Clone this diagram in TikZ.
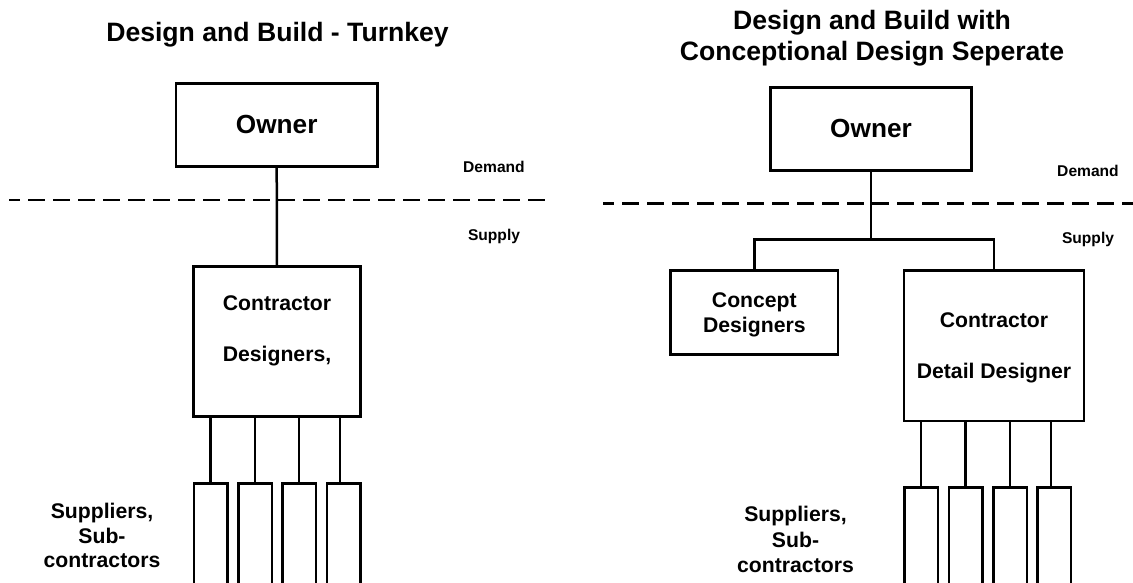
\documentclass[tikz,border=0pt]{standalone}
\usepackage{fontspec}
\setmainfont{Liberation Sans}
\begin{document}
\begin{tikzpicture}[x=1pt,y=-1pt,
  box/.style={draw, rectangle, inner sep=0pt, outer sep=0pt, line width=2.5pt},
  wire/.style={line width=2.5pt},
  dline/.style={line width=2.5pt, dash pattern=on 16.7pt off 8.3pt, dash phase=6pt},
  txt/.style={anchor=base, inner sep=0pt, outer sep=0pt},
  ttl/.style={txt, font=\fontsize{26.6}{30}\selectfont\bfseries},
  big/.style={txt, font=\fontsize{26.2}{30}\selectfont\bfseries},
  mid/.style={txt, font=\fontsize{21.2}{25}\selectfont\bfseries},
  sml/.style={txt, font=\fontsize{15.6}{18}\selectfont\bfseries},
  sub/.style={box, minimum width=33.5pt, minimum height=120pt, anchor=north}
]
\useasboundingbox (0,0) rectangle (1133,583);
\fill[white] (0,0) rectangle (1133,583);
\clip (0,0) rectangle (1133,583);

% ---------- Design and Build - Turnkey ----------
\node[ttl] (t1) at (277.5,41.5) {Design and Build - Turnkey};

\node[box, minimum width=201.3pt, minimum height=83.4pt] (own1) at (276.7,125) {};
\node[big] (own1t) at (276.7,133.3) {Owner};

\node[sml] (dem1) at (494,172.3) {Demand};
\node[sml] (sup1) at (494,240) {Supply};

\coordinate (d1a) at (9.3,200);
\coordinate (d1b) at (547,200);
\draw[dline] (d1a) -- (d1b);

\node[box, minimum width=167.4pt, minimum height=150pt] (con1) at (277,341.7) {};
\node[mid] (con1a) at (277,310.2) {Contractor};
\node[mid] (con1b) at (277,361.2) {Designers,};

\draw[wire] (own1.south) -- (con1.north);

\node[sub] (s11) at (210.5,483.3) {};
\node[sub] (s12) at (255,483.3) {};
\node[sub] (s13) at (299,483.3) {};
\node[sub] (s14) at (343.5,483.3) {};
\coordinate (k14) at ([xshift=-3.5pt]s14.north);

\draw[wire] (s11.north) -- (s11.north |- con1.south);
\draw[wire] (s12.north) -- (s12.north |- con1.south);
\draw[wire] (s13.north) -- (s13.north |- con1.south);
\draw[wire] (k14) -- (k14 |- con1.south);

\node[mid] (sp1a) at (102,518) {Suppliers,};
\node[mid] (sp1b) at (102,543) {Sub-};
\node[mid] (sp1c) at (102,567.5) {contractors};

% ---------- Design and Build with separate concept design ----------
\node[ttl] (t2a) at (872,29.3) {Design and Build with};
\node[ttl] (t2b) at (872,61) {Conceptional Design Seperate};

\node[box, minimum width=200.6pt, minimum height=83.4pt] (own2) at (871,129) {};
\node[big] (own2t) at (871,137.3) {Owner};

\node[sml] (dem2) at (1088,176) {Demand};
\node[sml] (sup2) at (1088,243) {Supply};

\coordinate (d2a) at (603.3,203.3);
\coordinate (d2b) at (1140,203.3);
\draw[dline] (d2a) -- (d2b);

\node[box, minimum width=167.3pt, minimum height=83.6pt] (cd) at (754.35,312.5) {};
\node[mid] (cda) at (754.35,307) {Concept};
\node[mid] (cdb) at (754.35,332) {Designers};

\node[box, minimum width=180pt, minimum height=150.3pt] (con2) at (994,345.85) {};
\node[mid] (con2a) at (994,327.7) {Contractor};
\node[mid] (con2b) at (994,378.3) {Detail Designer};

\coordinate (bar) at (871,239.3);
\draw[wire] (own2.south) -- (bar);
\draw[wire] (cd.north) |- (bar) -| (con2.north);

\node[sub] (s21) at (921,487.7) {};
\node[sub] (s22) at (965.5,487.7) {};
\node[sub] (s23) at (1010,487.7) {};
\node[sub] (s24) at (1054,487.7) {};
\coordinate (k24) at ([xshift=-3pt]s24.north);

\draw[wire] (s21.north) -- (s21.north |- con2.south);
\draw[wire] (s22.north) -- (s22.north |- con2.south);
\draw[wire] (s23.north) -- (s23.north |- con2.south);
\draw[wire] (k24) -- (k24 |- con2.south);

\node[mid] (sp2a) at (795.5,521.7) {Suppliers,};
\node[mid] (sp2b) at (795.5,547.3) {Sub-};
\node[mid] (sp2c) at (795.5,572.7) {contractors};
\end{tikzpicture}
\end{document}
